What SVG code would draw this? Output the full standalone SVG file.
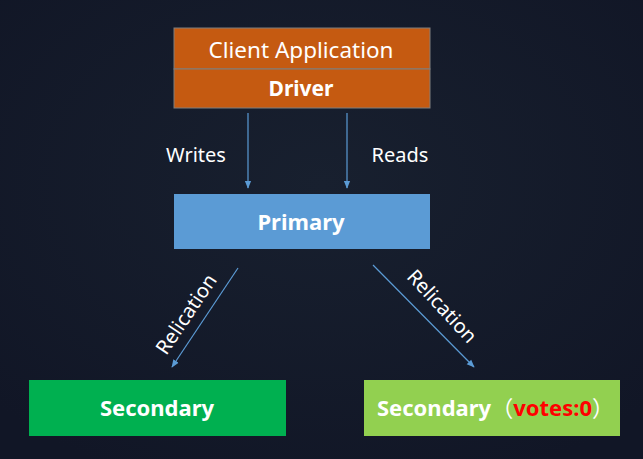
<svg xmlns="http://www.w3.org/2000/svg" width="643" height="459" viewBox="0 0 643 459">
<defs>
<marker id="ah" viewBox="0 0 10 10" refX="9" refY="5" markerWidth="8" markerHeight="8" orient="auto" markerUnits="userSpaceOnUse">
<path d="M0,1 L10,5 L0,9 z" fill="#5b9bd5"/>
</marker>
<radialGradient id="bg" cx="50%" cy="40%" r="70%">
<stop offset="0" stop-color="#18202f"/>
<stop offset="1" stop-color="#111626"/>
</radialGradient>
</defs>
<style>
text{font-family:"Noto Sans","Noto Sans CJK SC","Liberation Sans",sans-serif;fill:#fff;}
.b{font-weight:bold;}
.lbl{font-size:20px;}
.conn line{stroke:#5b9bd5;stroke-width:1.2;marker-end:url(#ah);}
</style>
<rect width="643" height="459" fill="url(#bg)"/>
<g id="client">
<rect x="174" y="28" width="256" height="41" fill="#c55a11" stroke="#7f7f7f" stroke-width="1"/>
<text x="301" y="58" font-size="22.5" text-anchor="middle">Client Application</text>
</g>
<g id="driver">
<rect x="174" y="69" width="256" height="39" fill="#c55a11" stroke="#7f7f7f" stroke-width="1"/>
<text x="301" y="96" font-size="21" class="b" text-anchor="middle">Driver</text>
</g>
<g id="primary">
<rect x="174" y="194" width="256" height="55" fill="#5b9bd5"/>
<text x="301" y="230" font-size="22" class="b" text-anchor="middle">Primary</text>
</g>
<g id="secondary1">
<rect x="29" y="380" width="257" height="56" fill="#00b050"/>
<text x="157" y="416" font-size="22" class="b" text-anchor="middle">Secondary</text>
</g>
<g id="secondary2">
<rect x="364" y="380" width="256" height="56" fill="#92d050"/>
<text x="377" y="416" font-size="22" class="b">Secondary<tspan font-weight="normal">（</tspan><tspan fill="#ff0000">votes:0</tspan><tspan font-weight="normal">）</tspan></text>
</g>
<g id="connectors" class="conn">
<line x1="248" y1="113" x2="248" y2="188"/>
<line x1="347" y1="113" x2="347" y2="188"/>
<line x1="238" y1="268" x2="172" y2="367"/>
<line x1="373" y1="265" x2="474" y2="367"/>
<text x="196" y="162" class="lbl" text-anchor="middle">Writes</text>
<text x="400" y="162" class="lbl" text-anchor="middle">Reads</text>
<text class="lbl" text-anchor="middle" transform="translate(192,318) rotate(-56)">Relication</text>
<text class="lbl" text-anchor="middle" transform="translate(437,311) rotate(47)">Relication</text>
</g>
</svg>
